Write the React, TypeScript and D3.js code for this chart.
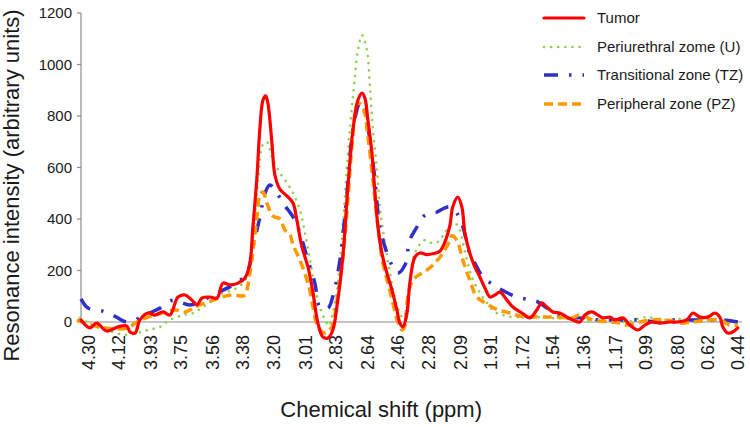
import React from "react";
import * as d3 from "d3";

const ppmTicks = [4.30, 4.12, 3.93, 3.75, 3.56, 3.38, 3.20, 3.01, 2.83, 2.64, 2.46, 2.28, 2.09, 1.91, 1.72, 1.54, 1.36, 1.17, 0.99, 0.80, 0.62, 0.44];
const yTicks = [0, 200, 400, 600, 800, 1000, 1200];

const seriesNames = ["Tumor", "Periurethral zome (U)", "Transitional zone (TZ)", "Peripheral zone (PZ)"];

const tumorData: [number, number][] = [
  [4.342, 8], [4.289, -23], [4.249, -4], [4.190, -35], [4.122, -19], [4.071, -15], [4.051, -39], [4.021, -43],
  [3.992, 8], [3.944, 35], [3.903, 27], [3.855, 39], [3.814, 27], [3.766, 97], [3.724, 105], [3.683, 85],
  [3.653, 66], [3.624, 93], [3.576, 97], [3.534, 93], [3.499, 151], [3.457, 144], [3.410, 151], [3.368, 171],
  [3.339, 229], [3.321, 369], [3.297, 563], [3.279, 757], [3.261, 862], [3.245, 878], [3.232, 850], [3.208, 695],
  [3.190, 570], [3.160, 515], [3.119, 490], [3.083, 462], [3.061, 400], [3.031, 295], [2.994, 214], [2.964, 113],
  [2.935, -4], [2.905, -58], [2.875, -62], [2.846, -31], [2.822, 60], [2.786, 260], [2.757, 524], [2.727, 745],
  [2.697, 862], [2.673, 889], [2.656, 870], [2.638, 784], [2.614, 656], [2.596, 501], [2.578, 369], [2.555, 268],
  [2.525, 190], [2.495, 124], [2.466, 47], [2.448, -4], [2.430, -19], [2.406, 35], [2.389, 151], [2.359, 252],
  [2.329, 268], [2.288, 262], [2.252, 265], [2.211, 275], [2.181, 310], [2.151, 375], [2.134, 447], [2.104, 485],
  [2.080, 447], [2.062, 346], [2.033, 268], [2.003, 214], [1.973, 175], [1.943, 132], [1.913, 97], [1.884, 105],
  [1.854, 116], [1.812, 85], [1.777, 58], [1.723, 35], [1.676, 16], [1.635, 47], [1.605, 74], [1.575, 58],
  [1.539, 39], [1.498, 35], [1.456, 19], [1.421, 8], [1.379, 0], [1.349, 27], [1.308, 39], [1.272, 27],
  [1.242, 16], [1.201, 19], [1.171, 8], [1.124, 16], [1.082, -12], [1.035, -31], [0.993, -12], [0.951, 0],
  [0.904, -4], [0.845, 0], [0.803, 0], [0.744, 8], [0.708, 35], [0.666, 19], [0.619, 19], [0.577, 35],
  [0.548, 19], [0.530, -19], [0.500, -43], [0.471, -39], [0.441, -23],
];

const periurethralData: [number, number][] = [
  [4.348, 16], [4.318, 5], [4.289, -12], [4.259, -19], [4.229, -23], [4.170, -35], [4.081, -50], [4.010, -43],
  [3.944, -31], [3.873, -19], [3.814, 8], [3.736, 27], [3.677, 35], [3.618, 58], [3.558, 85], [3.499, 113],
  [3.439, 124], [3.380, 151], [3.350, 190], [3.321, 330], [3.291, 540], [3.261, 690], [3.238, 699], [3.202, 629],
  [3.160, 579], [3.119, 540], [3.083, 501], [3.042, 435], [3.012, 346], [2.982, 241], [2.953, 136], [2.923, 58],
  [2.893, 8], [2.868, -15], [2.852, 20], [2.822, 120], [2.786, 380], [2.757, 656], [2.727, 874], [2.697, 1056],
  [2.673, 1114], [2.644, 1056], [2.626, 913], [2.608, 745], [2.584, 590], [2.567, 447], [2.537, 307], [2.507, 190],
  [2.478, 97], [2.448, 35], [2.430, 16], [2.401, 74], [2.371, 241], [2.341, 291], [2.300, 318], [2.258, 307],
  [2.223, 311], [2.181, 346], [2.134, 384], [2.104, 375], [2.074, 307], [2.045, 229], [2.015, 165], [1.973, 113],
  [1.931, 74], [1.884, 39], [1.836, 27], [1.777, 19], [1.694, 22], [1.617, 18], [1.540, 15], [1.456, 12],
  [1.379, 8], [1.302, 5], [1.242, 10], [1.171, 5], [1.100, 0], [1.023, 15], [0.970, 18], [0.904, 10],
  [0.845, 8], [0.785, 12], [0.708, 10], [0.625, 8], [0.548, 5], [0.500, 0], [0.441, -5],
];

const transitionalData: [number, number][] = [
  [4.342, 90], [4.300, 54], [4.211, 42], [4.140, 22], [4.069, 0], [3.992, 16], [3.932, 35], [3.873, 54],
  [3.796, 85], [3.695, 66], [3.618, 85], [3.534, 113], [3.439, 144], [3.356, 190], [3.321, 291], [3.279, 408],
  [3.249, 501], [3.220, 532], [3.178, 501], [3.143, 462], [3.083, 408], [3.042, 346], [3.000, 252], [2.953, 151],
  [2.923, 58], [2.875, 54], [2.846, 100], [2.804, 241], [2.762, 501], [2.727, 745], [2.685, 850], [2.656, 811],
  [2.626, 707], [2.596, 551], [2.567, 369], [2.525, 268], [2.490, 214], [2.460, 190], [2.418, 221], [2.389, 318],
  [2.347, 369], [2.312, 408], [2.270, 423], [2.228, 427], [2.181, 443], [2.151, 447], [2.110, 423], [2.074, 369],
  [2.033, 265], [2.003, 229], [1.955, 175], [1.872, 136], [1.842, 124], [1.753, 97], [1.664, 85], [1.629, 78],
  [1.557, 47], [1.456, 19], [1.379, 16], [1.260, 8], [1.124, 8], [1.023, 8], [0.922, 0], [0.827, 8],
  [0.708, 8], [0.607, 8], [0.530, 8], [0.441, 0],
];

const peripheralData: [number, number][] = [
  [4.366, 8], [4.336, 0], [4.277, -12], [4.200, -23], [4.122, -27], [4.063, -23], [4.010, 0], [3.944, 19],
  [3.861, 35], [3.784, 47], [3.724, 39], [3.665, 58], [3.588, 78], [3.505, 97], [3.445, 105], [3.386, 101],
  [3.368, 105], [3.339, 190], [3.297, 408], [3.279, 495], [3.261, 505], [3.238, 462], [3.202, 412], [3.160, 400],
  [3.131, 357], [3.101, 340], [3.083, 300], [3.042, 240], [2.994, 151], [2.964, 58], [2.935, -19], [2.893, -43],
  [2.852, -19], [2.822, 85], [2.786, 252], [2.757, 474], [2.733, 680], [2.697, 850], [2.667, 835], [2.638, 718],
  [2.608, 551], [2.578, 369], [2.549, 229], [2.519, 151], [2.490, 74], [2.460, 0], [2.436, -31], [2.418, -15],
  [2.401, 97], [2.371, 163], [2.318, 190], [2.270, 210], [2.223, 241], [2.181, 280], [2.151, 318], [2.140, 335],
  [2.110, 318], [2.074, 240], [2.033, 163], [1.991, 97], [1.931, 70], [1.866, 47], [1.795, 35], [1.718, 20],
  [1.617, 20], [1.516, 19], [1.421, 17], [1.379, 27], [1.302, 8], [1.201, 0], [1.141, -4], [1.100, -12],
  [1.023, 0], [0.946, 8], [0.862, 8], [0.785, -4], [0.708, 0], [0.607, 8], [0.548, 8], [0.488, -12], [0.441, -12],
];

const W = 750;
const H = 427;
const FONT = "'Liberation Sans', Arial, sans-serif";

const x = d3.scaleLinear().domain([4.342, 0.428]).range([81, 740]);
const y = d3.scaleLinear().domain([0, 1200]).range([322, 13]);

const line = d3
  .line<[number, number]>()
  .x((d) => x(d[0]))
  .y((d) => y(d[1]))
  .curve(d3.curveCatmullRom.alpha(0.5));

const styles = [
  { color: "#ff0000", width: 3.2, dash: "none", cap: "round" },
  { color: "#92d050", width: 2.6, dash: "0.1 7", cap: "round" },
  { color: "#3030c8", width: 3.5, dash: "14 11 2.5 11", cap: "butt" },
  { color: "#ff9900", width: 3.5, dash: "9 5", cap: "butt" },
];

const allData = [tumorData, periurethralData, transitionalData, peripheralData];
const drawOrder = [1, 2, 3, 0];

export default function App() {
  return (
    <svg
      width={W}
      height={H}
      style={{ position: "absolute", left: 0, top: 0, background: "#fff" }}
      fontFamily={FONT}
    >
      <rect width={W} height={H} fill="#fff" />
      {/* axes */}
      <line x1={81} x2={81} y1={y(1200)} y2={y(0)} stroke="#8c8c8c" strokeWidth={1.2} />
      <line x1={81} x2={742} y1={y(0)} y2={y(0)} stroke="#8c8c8c" strokeWidth={1.2} />
      {yTicks.map((t) => (
        <g key={t}>
          <line x1={77} x2={81} y1={y(t)} y2={y(t)} stroke="#8c8c8c" strokeWidth={1.2} />
          <text x={72} y={y(t)} dy="0.36em" textAnchor="end" fontSize={15} fill="#1a1a1a">
            {t}
          </text>
        </g>
      ))}
      {ppmTicks.map((t) => (
        <text
          key={t}
          transform={`translate(${x(t)},335) rotate(-90)`}
          dy="0.36em"
          textAnchor="end"
          fontSize={18}
          fill="#1a1a1a"
        >
          {t.toFixed(2)}
        </text>
      ))}
      {/* series */}
      {drawOrder.map((i) => (
        <path
          key={i}
          d={line(allData[i]) || ""}
          fill="none"
          stroke={styles[i].color}
          strokeWidth={styles[i].width}
          strokeDasharray={styles[i].dash}
          strokeLinecap={styles[i].cap as any}
          strokeLinejoin="round"
        />
      ))}
      {/* axis titles */}
      <text
        transform="translate(19,185.5) rotate(-90)"
        textAnchor="middle"
        fontSize={22}
        fill="#1a1a1a"
      >
        Resonance intensity (arbitrary units)
      </text>
      <text x={482} y={417} textAnchor="end" fontSize={22} fill="#1a1a1a">
        Chemical shift (ppm)
      </text>
      {/* legend */}
      {seriesNames.map((name, i) => {
        const ly = [18, 47, 75, 104][i];
        return (
          <g key={name}>
            <line
              x1={544}
              x2={584}
              y1={ly}
              y2={ly}
              stroke={styles[i].color}
              strokeWidth={styles[i].width}
              strokeDasharray={styles[i].dash}
              strokeLinecap={styles[i].cap as any}
            />
            <text x={597} y={ly} dy="0.36em" fontSize={15} fill="#1a1a1a">
              {name}
            </text>
          </g>
        );
      })}
    </svg>
  );
}
